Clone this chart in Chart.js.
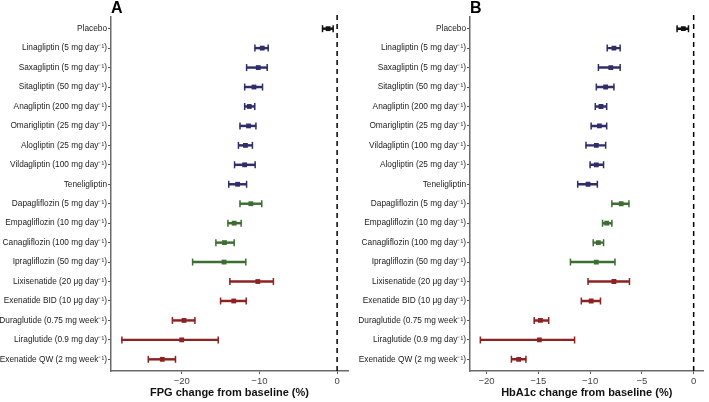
<!DOCTYPE html>
<html>
<head>
<meta charset="utf-8">
<script src="https://cdn.jsdelivr.net/npm/chart.js@4.4.1/dist/chart.umd.min.js"></script>
<style>
  html, body { margin: 0; padding: 0; background: #fff; }
  #wrap { position: relative; width: 709px; height: 402px; }
  #boxA { position: absolute; left: 0; top: 0; width: 354px; height: 402px; }
  #boxB { position: absolute; left: 354px; top: 0; width: 355px; height: 402px; }
</style>
</head>
<body>
<div id="wrap">
  <div id="boxA"><canvas id="chartA"></canvas></div>
  <div id="boxB"><canvas id="chartB"></canvas></div>
</div>
<script>
// ---------- Panel A: FPG ----------
const categoriesA = [
  "Placebo",
  "Linagliptin (5 mg day\u207B\u00B9)",
  "Saxagliptin (5 mg day\u207B\u00B9)",
  "Sitagliptin (50 mg day\u207B\u00B9)",
  "Anagliptin (200 mg day\u207B\u00B9)",
  "Omarigliptin (25 mg day\u207B\u00B9)",
  "Alogliptin (25 mg day\u207B\u00B9)",
  "Vildagliptin (100 mg day\u207B\u00B9)",
  "Teneligliptin",
  "Dapagliflozin (5 mg day\u207B\u00B9)",
  "Empagliflozin (10 mg day\u207B\u00B9)",
  "Canagliflozin (100 mg day\u207B\u00B9)",
  "Ipragliflozin (50 mg day\u207B\u00B9)",
  "Lixisenatide (20 \u03BCg day\u207B\u00B9)",
  "Exenatide BID (10 \u03BCg day\u207B\u00B9)",
  "Duraglutide (0.75 mg week\u207B\u00B9)",
  "Liraglutide (0.9 mg day\u207B\u00B9)",
  "Exenatide QW (2 mg week\u207B\u00B9)"
];
const groupsA = ["placebo","dpp4","dpp4","dpp4","dpp4","dpp4","dpp4","dpp4","dpp4",
                 "sglt2","sglt2","sglt2","sglt2","glp1","glp1","glp1","glp1","glp1"];
const meanA  = [-1.16, -9.64, -10.15, -10.7, -11.3, -11.4, -11.8, -11.9, -12.8, -11.1, -13.25, -14.5, -14.55, -10.2, -13.3, -19.7, -20.0, -22.5];
const lowerA = [-1.88, -10.58, -11.65, -11.9, -11.9, -12.5, -12.7, -13.2, -13.95, -12.5, -14.05, -15.6, -18.6, -13.8, -15.0, -21.2, -27.7, -24.3];
const upperA = [-0.51, -8.87, -9.0, -9.6, -10.6, -10.45, -10.9, -10.55, -11.65, -9.7, -12.35, -13.25, -11.75, -8.2, -11.7, -18.3, -15.3, -20.8];
const ticksA = [-20, -10, 0];

// ---------- Panel B: HbA1c ----------
const categoriesB = [
  "Placebo",
  "Linagliptin (5 mg day\u207B\u00B9)",
  "Saxagliptin (5 mg day\u207B\u00B9)",
  "Sitagliptin (50 mg day\u207B\u00B9)",
  "Anagliptin (200 mg day\u207B\u00B9)",
  "Omarigliptin (25 mg day\u207B\u00B9)",
  "Vildagliptin (100 mg day\u207B\u00B9)",
  "Alogliptin (25 mg day\u207B\u00B9)",
  "Teneligliptin",
  "Dapagliflozin (5 mg day\u207B\u00B9)",
  "Empagliflozin (10 mg day\u207B\u00B9)",
  "Canagliflozin (100 mg day\u207B\u00B9)",
  "Ipragliflozin (50 mg day\u207B\u00B9)",
  "Lixisenatide (20 \u03BCg day\u207B\u00B9)",
  "Exenatide BID (10 \u03BCg day\u207B\u00B9)",
  "Duraglutide (0.75 mg week\u207B\u00B9)",
  "Liraglutide (0.9 mg day\u207B\u00B9)",
  "Exenatide QW (2 mg week\u207B\u00B9)"
];
const groupsB = groupsA;
const meanB  = [-1.0, -7.7, -8.0, -8.5, -8.95, -9.1, -9.4, -9.4, -10.2, -7.0, -8.4, -9.2, -9.4, -7.7, -9.9, -14.8, -14.9, -16.9];
const lowerB = [-1.6, -8.35, -9.2, -9.4, -9.5, -9.9, -10.4, -10.0, -11.2, -7.9, -8.8, -9.7, -11.9, -10.2, -10.85, -15.4, -20.6, -17.6];
const upperB = [-0.5, -7.1, -7.1, -7.7, -8.4, -8.4, -8.5, -8.7, -9.3, -6.25, -7.9, -8.7, -7.6, -6.2, -9.0, -14.0, -11.5, -16.2];
const ticksB = [-20, -15, -10, -5, 0];

const groupColors = {
  placebo: "#111111",
  dpp4: "#2f2e6a",
  sglt2: "#3e6d33",
  glp1: "#8c2222"
};

const FONT = "'Liberation Sans', Arial, Helvetica, sans-serif";

const zeroLine = {
  id: 'zeroLine',
  beforeDatasetsDraw(chart) {
    const x = chart.scales.x.getPixelForValue(0);
    const ctx = chart.ctx;
    ctx.save();
    ctx.strokeStyle = '#000';
    ctx.lineWidth = 1.5;
    ctx.setLineDash([5, 4]);
    ctx.beginPath();
    ctx.moveTo(x, chart.chartArea.top - 2);
    ctx.lineTo(x, chart.chartArea.bottom);
    ctx.stroke();
    ctx.restore();
  }
};

function makeChart(id, panel, cats, groups, mean, lower, upper, tickVals, xmin, xmax, yWidth, padRight, xTitle) {
  const cols = groups.map(g => groupColors[g]);
  const idx = cats.map((c, i) => i);
  return new Chart(document.getElementById(id), {
    type: 'bar',
    data: {
      datasets: [
        {
          type: 'bar',
          data: idx.map(i => ({ x: [lower[i], upper[i]], y: i })),
          backgroundColor: cols,
          borderWidth: 0,
          barThickness: 1.8,
          order: 3
        },
        {
          type: 'scatter',
          data: idx.map(i => ({ x: lower[i], y: i })),
          pointStyle: 'line',
          rotation: 90,
          radius: 3.5,
          borderColor: cols,
          borderWidth: 1.5,
          order: 2
        },
        {
          type: 'scatter',
          data: idx.map(i => ({ x: upper[i], y: i })),
          pointStyle: 'line',
          rotation: 90,
          radius: 3.5,
          borderColor: cols,
          borderWidth: 1.5,
          order: 2
        },
        {
          type: 'scatter',
          data: idx.map(i => ({ x: mean[i], y: i })),
          pointStyle: 'rect',
          radius: 3.4,
          backgroundColor: cols,
          borderColor: cols,
          borderWidth: 0,
          order: 1
        }
      ]
    },
    options: {
      indexAxis: 'y',
      responsive: false,
      animation: false,
      devicePixelRatio: 1,
      layout: { padding: { left: 0, right: padRight, top: 0, bottom: 0 } },
      plugins: {
        legend: { display: false },
        tooltip: { enabled: false },
        title: {
          display: true,
          text: panel,
          align: 'start',
          fullSize: false,
          color: '#000',
          font: { family: FONT, size: 16, weight: 'bold', lineHeight: 1 },
          padding: { top: 1, bottom: 0 }
        }
      },
      scales: {
        x: {
          type: 'linear',
          min: xmin,
          max: xmax,
          offset: false,
          afterBuildTicks: s => { s.ticks = tickVals.map(v => ({ value: v })); },
          afterFit: s => { s.height = 31; },
          ticks: {
            color: '#444',
            font: { family: FONT, size: 9.5 },
            padding: 2,
            callback: v => (v < 0 ? '\u2212' + Math.abs(v) : String(v))
          },
          grid: { offset: false, drawOnChartArea: false, drawTicks: true, tickLength: 3, color: '#555', lineWidth: 1 },
          border: { display: true, color: '#6a6a6a', width: 1.5 },
          title: {
            display: true,
            text: xTitle,
            color: '#111',
            font: { family: FONT, size: 11, weight: 'bold' },
            padding: { top: 0, bottom: 2 }
          }
        },
        y: {
          type: 'linear',
          reverse: true,
          min: -0.6,
          max: 17.6,
          offset: false,
          afterBuildTicks: s => { s.ticks = idx.map(v => ({ value: v })); },
          afterFit: s => { s.width = yWidth; },
          ticks: {
            autoSkip: false,
            color: '#222',
            font: { family: FONT, size: 8.3 },
            padding: 1,
            callback: v => cats[v]
          },
          grid: { offset: false, drawOnChartArea: false, drawTicks: true, tickLength: 3, color: '#555', lineWidth: 1 },
          border: { display: true, color: '#6a6a6a', width: 1.5 }
        }
      }
    },
    plugins: [zeroLine]
  });
}

const cA = document.getElementById('chartA'); cA.width = 354; cA.height = 402;
const cB = document.getElementById('chartB'); cB.width = 355; cB.height = 402;

makeChart('chartA', 'A', categoriesA, groupsA, meanA, lowerA, upperA, ticksA, -29.1, 1.4, 111, 6, 'FPG change from baseline (%)');
makeChart('chartB', 'B', categoriesB, groupsB, meanB, lowerB, upperB, ticksB, -21.6, 0.95, 116, 2, 'HbA1c change from baseline (%)');
</script>
</body>
</html>
